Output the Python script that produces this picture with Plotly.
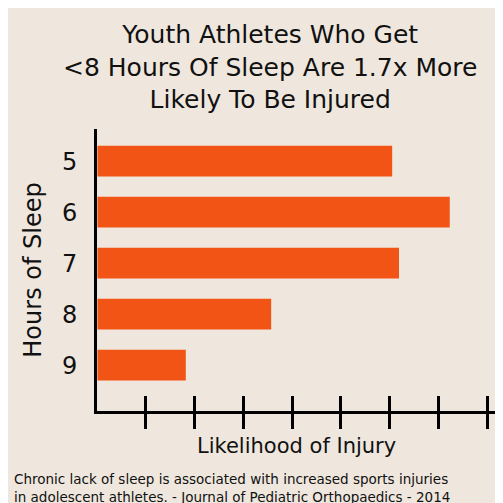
import plotly.graph_objects as go

hours = ["5", "6", "7", "8", "9"]
likelihood = [6.05, 7.23, 6.19, 3.57, 1.82]
tick_vals = [1, 2, 3, 4, 5, 6, 7, 8]

BG = "#efe7dd"
F = "DejaVu Sans"

fig = go.Figure()
fig.add_trace(go.Bar(y=hours, x=likelihood, orientation="h", marker_color="#f15415",
                     marker_line_width=0, width=0.6))
fig.add_trace(go.Bar(y=hours, x=[0]*5, orientation="h", xaxis="x2", showlegend=False,
                     hoverinfo="skip"))
ax = dict(range=[0, 8.26], tickvals=tick_vals, showticklabels=False, showgrid=False,
          zeroline=False, ticklen=15, tickwidth=3, tickcolor="black")
fig.update_layout(
    width=503, height=503, paper_bgcolor=BG, plot_bgcolor=BG,
    margin=dict(l=89, r=11, t=121, b=100), showlegend=False,
    xaxis=dict(**ax, ticks="outside", showline=True, linecolor="black", linewidth=3),
    xaxis2=dict(**ax, ticks="inside", overlaying="x", side="bottom", showline=False),
    yaxis=dict(type="category", range=[4.9, -0.63], showline=True, linecolor="black",
               linewidth=3, ticks="", showgrid=False, tickfont=dict(family=F, size=24, color="#111"),
               ticklabelstandoff=12,
               title=dict(text="Hours of Sleep", font=dict(family=F, size=24, color="#111"), standoff=14)),
    annotations=[
        dict(text="Youth Athletes Who Get<br><8 Hours Of Sleep Are 1.7x More<br>Likely To Be Injured",
             x=0.43, y=1.394, xref="paper", yref="paper", yanchor="top", xanchor="center",
             showarrow=False, font=dict(family=F, size=25, color="#111"), align="center"),
        dict(text="Likelihood of Injury", x=0.494, xref="paper", y=-0.124, yref="paper",
             showarrow=False, font=dict(family=F, size=21, color="#111"), xanchor="center",
             yanchor="middle"),
        dict(text="Chronic lack of sleep is associated with increased sports injuries<br>in adolescent athletes. - Journal of Pediatric Orthopaedics - 2014",
             x=-0.211, xref="paper", y=-0.34, yref="paper", xanchor="left", yanchor="bottom",
             showarrow=False, align="left", font=dict(family=F, size=13.5, color="#111")),
    ],
)
fig.write_html("out.html")
